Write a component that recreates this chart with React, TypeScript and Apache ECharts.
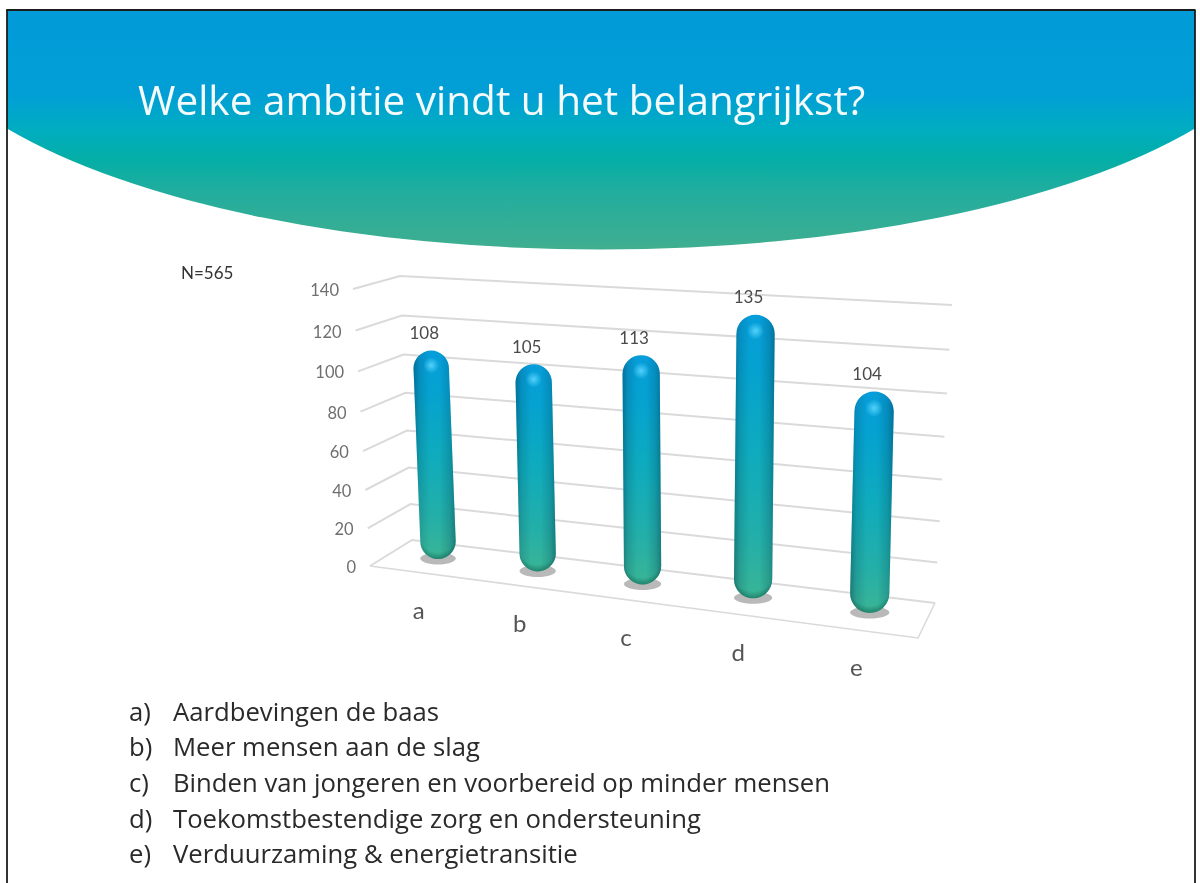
import React, { useEffect, useRef } from "react";
import * as echarts from "echarts";

const titleText = "Welke ambitie vindt u het belangrijkst?";
const sampleNote = "N=565";
const categories = ["a", "b", "c", "d", "e"];
const responses = [108, 105, 113, 135, 104];
const yTicks = [0, 20, 40, 60, 80, 100, 120, 140];
const legendLines = [
  "Aardbevingen de baas",
  "Meer mensen aan de slag",
  "Binden van jongeren en voorbereid op minder mensen",
  "Toekomstbestendige zorg en ondersteuning",
  "Verduurzaming & energietransitie",
];

type P = [number, number];
// Corners of the drawn box: floor and top, back and front.
const BBL: P = [412, 540], BBR: P = [935, 603], BTL: P = [400, 276], BTR: P = [952, 305];
const FBL: P = [370, 566], FBR: P = [918, 638], FTL: P = [353, 289], FTR: P = [928, 323];
const GRID = { left: 370, top: 289, width: 548, height: 277 };

const lerp = (a: P, b: P, t: number): P => [a[0] + (b[0] - a[0]) * t, a[1] + (b[1] - a[1]) * t];
const eu = (u: number) => u / (1 + 0.14 * (1 - u));
const ev = (v: number) => v / (1 + 0.058 * (1 - v));

// u, v come from the grid's own scales; w: 0 = front, 1 = back.
function project(u: number, v: number, w: number): P {
  const U = eu(u), V = ev(v);
  const front = lerp(lerp(FBL, FBR, U), lerp(FTL, FTR, U), V);
  const back = lerp(lerp(BBL, BBR, U), lerp(BTL, BTR, U), V);
  return lerp(front, back, w);
}
const norm = (api: any, cat: number, val: number) => {
  const c = api.coord([cat, val]);
  return [(c[0] - GRID.left) / GRID.width, (GRID.top + GRID.height - c[1]) / GRID.height];
};

const FONT = "Lato";
const wallLine = "#dadada";

function renderWall(_p: any, api: any) {
  const tick = api.value(1);
  const [, v] = norm(api, 0, tick);
  const a = project(0, v, 0), b = project(0, v, 1), c = project(1, v, 1);
  const kids: any[] = [
    { type: "polyline", shape: { points: [a, b, c] }, style: { fill: "none", stroke: wallLine, lineWidth: 2 } },
    {
      type: "text",
      style: {
        text: String(tick), x: a[0] - 14, y: a[1] + 1, textAlign: "right", textVerticalAlign: "middle",
        fontFamily: FONT, fontSize: 16.5, fill: "#6f6f6f",
      },
    },
  ];
  if (tick === 0) {
    kids.push({
      type: "polyline",
      shape: { points: [a, project(1, v, 0), c] },
      style: { fill: "none", stroke: wallLine, lineWidth: 1.6 },
    });
  }
  return { type: "group", children: kids };
}

function renderAxisCat(_p: any, api: any) {
  const idx = api.value(0);
  const [u, v] = norm(api, idx, 0);
  const p = project(u, v, 0);
  return {
    type: "text",
    style: {
      text: categories[idx], x: p[0], y: p[1] + 37, textAlign: "center", textVerticalAlign: "middle",
      fontFamily: FONT, fontSize: 24, fill: "#555555",
    },
  };
}

function renderBar(_p: any, api: any) {
  const idx = api.value(0);
  const val = api.value(1);
  const [u, v0] = norm(api, idx, 0);
  const [, v] = norm(api, idx, val);
  const base = project(u, v0, 0.5);
  const top = project(u, v, 0.5);
  const U = eu(u);
  const r = 17.5 + 2.4 * U;
  const xt = top[0] + 2 * (1 - U), yt = top[1] + r, xb = base[0] - 1 + 5 * U, yb = base[1] - r;
  const d = `M${xt - r} ${yt}A${r} ${r} 0 0 1 ${xt + r} ${yt}L${xb + r} ${yb}A${r} ${r} 0 0 1 ${xb - r} ${yb}Z`;
  const vertical = {
    type: "linear", x: 0, y: 0, x2: 0, y2: 1,
    colorStops: [
      { offset: 0, color: "#069dda" },
      { offset: 0.2, color: "#05a2d0" },
      { offset: 0.5, color: "#0fabbd" },
      { offset: 0.8, color: "#24afa8" },
      { offset: 1, color: "#3ab595" },
    ],
  };
  const sides = {
    type: "linear", x: 0, y: 0, x2: 1, y2: 0,
    colorStops: [
      { offset: 0, color: "rgba(0,50,70,0.42)" },
      { offset: 0.14, color: "rgba(0,50,70,0.16)" },
      { offset: 0.38, color: "rgba(0,50,70,0)" },
      { offset: 0.62, color: "rgba(0,50,70,0)" },
      { offset: 0.86, color: "rgba(0,50,70,0.18)" },
      { offset: 1, color: "rgba(0,50,70,0.42)" },
    ],
  };
  return {
    type: "group",
    children: [
      {
        type: "ellipse",
        shape: { cx: xb, cy: base[1] - 0.5, rx: r, ry: 6 },
        style: { fill: "#b9b9b9" },
      },
      { type: "path", shape: { pathData: d }, style: { fill: vertical } },
      { type: "path", shape: { pathData: d }, style: { fill: sides } },
      {
        type: "circle",
        shape: { cx: xb, cy: yb, r },
        style: {
          fill: {
            type: "radial", x: 0.5, y: 0.28, r: 0.74,
            colorStops: [
              { offset: 0, color: "rgba(0,70,60,0)" },
              { offset: 0.72, color: "rgba(0,70,60,0)" },
              { offset: 1, color: "rgba(0,70,60,0.5)" },
            ],
          },
        },
      },
      {
        type: "circle",
        shape: { cx: xt, cy: yt - 3, r: r * 0.45 },
        style: {
          fill: {
            type: "radial", x: 0.5, y: 0.5, r: 0.5,
            colorStops: [
              { offset: 0, color: "rgba(90,215,255,0.9)" },
              { offset: 1, color: "rgba(90,215,255,0)" },
            ],
          },
        },
      },
      {
        type: "text",
        style: {
          text: String(val), x: xt - 7, y: top[1] - 18, textAlign: "center", textVerticalAlign: "middle",
          fontFamily: FONT, fontSize: 17, fill: "#4a4a4a",
        },
      },
    ],
  };
}

export default function App() {
  const ref = useRef<HTMLDivElement>(null);
  useEffect(() => {
    const rx = 700, ry = 257;
    echarts.graphic.registerShape(
      "banner",
      echarts.graphic.extendPath(`M7 10L1195 10L1195 128.5A${rx} ${ry} 0 0 1 7 128.5Z`, {}) as any
    );
    const chart = echarts.init(ref.current!, null, { renderer: "svg", width: 1200, height: 883 });
    const graphic: any[] = [
      {
        type: "banner", x: 0, y: 0, silent: true,
        style: {
          fill: {
            type: "linear", x: 0, y: 0, x2: 0, y2: 1,
            colorStops: [
              { offset: 0, color: "#019bd8" },
              { offset: 0.35, color: "#019fd6" },
              { offset: 0.5, color: "#00adc0" },
              { offset: 0.625, color: "#04aea6" },
              { offset: 0.76, color: "#22ad9e" },
              { offset: 1, color: "#40ae90" },
            ],
          },
        },
      },
      { type: "line", shape: { x1: 7, y1: 10, x2: 7, y2: 883 }, style: { stroke: "#1c1c1c", lineWidth: 1.8 } },
      { type: "line", shape: { x1: 6.2, y1: 10, x2: 1195.5, y2: 10 }, style: { stroke: "#1c1c1c", lineWidth: 1.8 } },
      { type: "line", shape: { x1: 1195, y1: 10, x2: 1195, y2: 883 }, style: { stroke: "#1c1c1c", lineWidth: 1.8 } },
      {
        type: "text", x: 138, y: 99,
        style: { text: titleText, fontFamily: "Open Sans", fontWeight: 400, fontSize: 40.5, fill: "#f4fbfd", textVerticalAlign: "middle" },
      },
      {
        type: "text", x: 181, y: 272,
        style: { text: sampleNote, fontFamily: FONT, fontSize: 17, fill: "#333", textVerticalAlign: "middle" },
      },
    ];
    legendLines.forEach((line, i) => {
      const y = 711 + i * 35.7;
      graphic.push({
        type: "text", x: 129, y,
        style: { text: `${categories[i]})`, fontFamily: "Open Sans", fontSize: 25.7, fill: "#2a2a2a", textVerticalAlign: "middle" },
      });
      graphic.push({
        type: "text", x: 173, y,
        style: { text: line, fontFamily: "Open Sans", fontSize: 25.7, fill: "#2a2a2a", textVerticalAlign: "middle" },
      });
    });
    chart.setOption({
      animation: false,
      graphic,
      grid: { ...GRID },
      xAxis: { type: "category", data: categories, show: false },
      yAxis: { type: "value", min: 0, max: 140, interval: 20, show: false },
      series: [
        { type: "custom", silent: true, renderItem: renderWall, data: yTicks.map((t) => [0, t]), encode: { x: 0, y: 1 }, clip: false, z: 1 },
        { type: "custom", silent: true, renderItem: renderAxisCat, data: categories.map((_, i) => [i, 0]), encode: { x: 0, y: 1 }, clip: false, z: 1 },
        { type: "custom", silent: true, renderItem: renderBar, data: responses.map((r, i) => [i, r]), encode: { x: 0, y: 1 }, clip: false, z: 2 },
      ],
    });
    return () => chart.dispose();
  }, []);
  return <div ref={ref} style={{ position: "fixed", left: 0, top: 0, width: 1200, height: 883, background: "#fff", filter: "blur(0.6px)" }} />;
}
